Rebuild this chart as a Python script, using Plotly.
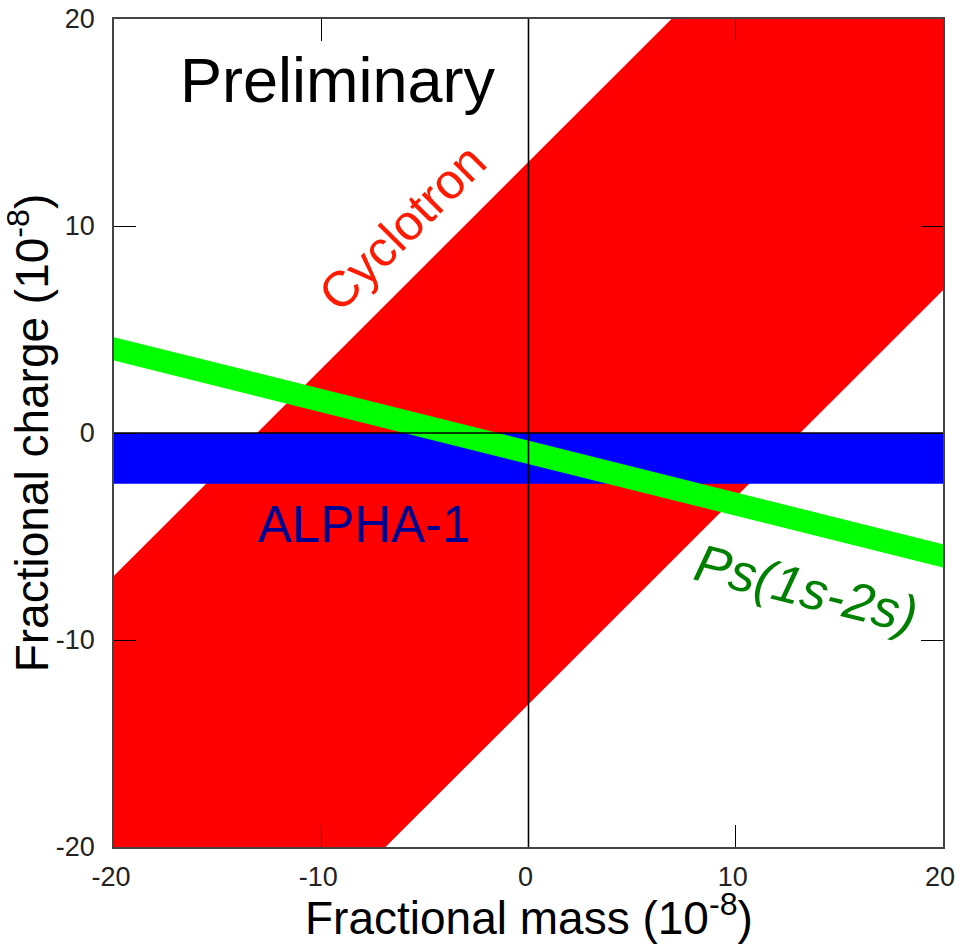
import plotly.graph_objects as go

# Axis range and tick labels (units of 1e-8)
axis_range = [-20, 20]
tick_values = [-20, -10, 0, 10, 20]
tick_text = ["-20", "-10", "0", "10", "20"]

# Cyclotron constraint: band y = slope * x + offset
cyclotron_slope = 1.0
cyclotron_offsets = [-13.1, 13.1]

# ALPHA-1 constraint: horizontal band in charge
alpha_bounds = [-2.45, 0.0]

# Ps(1s-2s) constraint: band y = slope * x + offset
ps_slope = -0.25
ps_offsets = [-1.5, -0.37]

# x span used to build the band polygons (clipped by the axes)
span = [-40, 40]

FONT = "Arial, Liberation Sans, sans-serif"


def band_polygon(slope, offsets):
    lo, hi = offsets
    xs = [span[0], span[1], span[1], span[0], span[0]]
    ys = [slope * span[0] + hi, slope * span[1] + hi,
          slope * span[1] + lo, slope * span[0] + lo,
          slope * span[0] + hi]
    return xs, ys


fig = go.Figure()

cx, cy = band_polygon(cyclotron_slope, cyclotron_offsets)
fig.add_trace(go.Scatter(x=cx, y=cy, fill="toself", fillcolor="#ff0000",
                         line=dict(width=0), mode="lines", hoverinfo="skip"))

ax, ay = band_polygon(0.0, alpha_bounds)
fig.add_trace(go.Scatter(x=ax, y=ay, fill="toself", fillcolor="#0000ff",
                         line=dict(width=0), mode="lines", hoverinfo="skip"))

px, py = band_polygon(ps_slope, ps_offsets)
fig.add_trace(go.Scatter(x=px, y=py, fill="toself", fillcolor="#00ff00",
                         line=dict(width=0), mode="lines", hoverinfo="skip"))

# zero lines drawn over the bands
fig.add_trace(go.Scatter(x=axis_range, y=[0, 0], mode="lines",
                         line=dict(color="black", width=1.6), hoverinfo="skip"))
fig.add_trace(go.Scatter(x=[0, 0], y=axis_range, mode="lines",
                         line=dict(color="black", width=1.6), hoverinfo="skip"))

annotations = [
    dict(text="Preliminary", x=-9.2, y=17.05, font=dict(size=63, color="black"),
         textangle=0),
    dict(text="Cyclotron", x=-6.1, y=9.9, font=dict(size=50, color="#ff1a00"),
         textangle=-45),
    dict(text="ALPHA-1", x=-7.9, y=-4.4, font=dict(size=51, color="#000090"),
         textangle=0),
    dict(text="<i>Ps(1s-2s)</i>", x=13.4, y=-7.5, font=dict(size=53, color="#008000"),
         textangle=14),
]
for a in annotations:
    a["font"]["family"] = FONT
    fig.add_annotation(xref="x", yref="y", showarrow=False,
                       xanchor="center", yanchor="middle", **a)

# x-axis title placed just under the tick labels
fig.add_annotation(text="Fractional mass (10<sup>-8</sup>)", xref="paper", yref="paper",
                   x=0.5, y=0, xanchor="center", yanchor="middle", yshift=-68,
                   showarrow=False, font=dict(family=FONT, size=46, color="black"))

axis_common = dict(
    range=axis_range, tickvals=tick_values, ticktext=tick_text,
    showgrid=False, zeroline=False, showline=True, linecolor="#444",
    linewidth=1.5, mirror="ticks", ticks="inside", ticklen=22,
    tickwidth=1.4, tickcolor="black", automargin=False,
    ticklabeloverflow="allow",
    tickfont=dict(family=FONT, size=27, color="#222"),
)

fig.update_layout(
    width=956, height=946,
    margin=dict(l=114, r=13, t=19, b=99),
    paper_bgcolor="white", plot_bgcolor="white",
    showlegend=False,
    xaxis=dict(**axis_common, ticklabelstandoff=5, ticklabelshift=-3),
    yaxis=dict(**axis_common, ticklabelstandoff=12,
               title=dict(text="Fractional charge (10<sup>-8</sup>)",
                          font=dict(family=FONT, size=46, color="black"))),
)

fig.write_html("out.html")
